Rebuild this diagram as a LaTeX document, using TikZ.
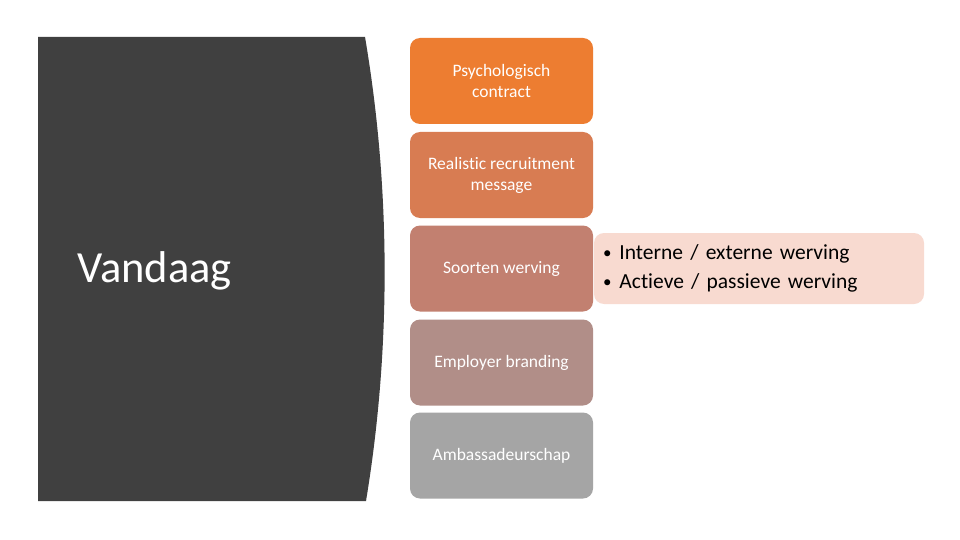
\documentclass[tikz,border=0pt]{standalone}
\usepackage{fontspec}
\setmainfont[Ligatures=NoCommon]{Carlito}
\definecolor{panel}{RGB}{64,64,64}
\definecolor{cA}{RGB}{237,125,49}
\definecolor{cB}{RGB}{216,124,82}
\definecolor{cC}{RGB}{194,128,112}
\definecolor{cD}{RGB}{177,142,136}
\definecolor{cE}{RGB}{165,165,165}
\definecolor{pinkbox}{RGB}{248,218,208}
\newcommand{\mybul}{\raisebox{1pt}{\fontsize{17}{29}\selectfont•}\hspace{8pt}}
\tikzset{
  stepbox/.style={rounded corners=10pt, minimum width=183pt, minimum height=86pt, inner sep=0pt,
    text=white, align=center, font=\fontsize{17.5}{21}\selectfont},
  detailbox/.style={rounded corners=10pt, fill=pinkbox, minimum width=330pt, minimum height=71pt,
    inner sep=0pt, text width=312pt, align=left, font=\fontsize{21.5}{29}\selectfont}
}
\begin{document}
\begin{tikzpicture}[x=1pt,y=-1pt]
\useasboundingbox[fill=white] (0,0) rectangle (960,540);
\fill[panel] (38,37) -- (365,37) .. controls (391,190) and (391,350) .. (366,501) -- (38,501) -- cycle;
\node[text=white, anchor=west, font=\fontsize{44.5}{50}\selectfont] (vandaag) at (74,271) {Vandaag};
\node[detailbox] (detail) at (759,268.5) {\mybul Interne / externe werving\\\mybul Actieve / passieve werving};
\node[stepbox, fill=cA] (b1) at (501.5,81) {Psychologisch\\contract};
\node[stepbox, fill=cB] (b2) at (501.5,175) {Realistic recruitment\\message};
\node[stepbox, fill=cC] (b3) at (501.5,268.5) {Soorten werving};
\node[stepbox, fill=cD] (b4) at (501.5,362.5) {Employer branding};
\node[stepbox, fill=cE] (b5) at (501.5,455.5) {Ambassadeurschap};
\end{tikzpicture}
\end{document}
